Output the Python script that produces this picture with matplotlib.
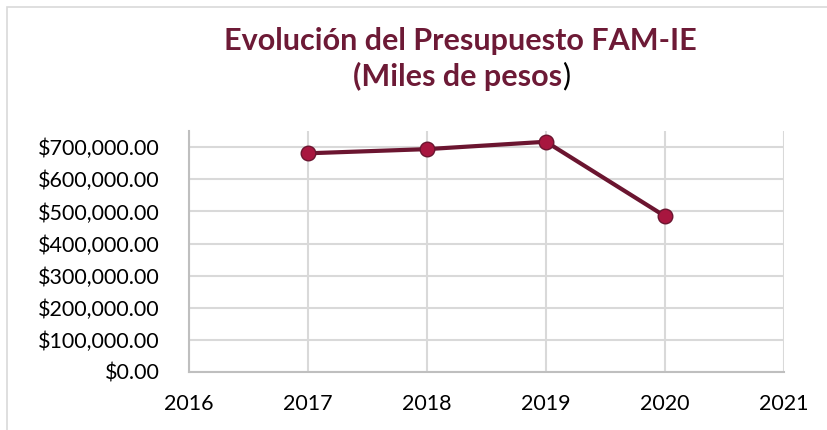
import numpy as np
import matplotlib.pyplot as plt
from matplotlib.patches import Rectangle
from matplotlib.ticker import FuncFormatter, MultipleLocator

# Datos (miles de pesos)
anios = [2017, 2018, 2019, 2020]
presupuesto = [681000, 694000, 717000, 485000]

color_titulo = '#6d1a36'
color_linea = '#6b1530'
color_marcador = '#a8163f'

plt.rcParams['font.family'] = ['Lato', 'DejaVu Sans']

fig = plt.figure(figsize=(8.28, 4.30), dpi=100)
fig.patches.append(Rectangle((0.009, -0.01), 1.0, 0.994, transform=fig.transFigure,
                             fill=False, edgecolor='#d9d9d9', linewidth=1.2))

ax = fig.add_axes([0.228, 0.135, 0.719, 0.56])
ax.plot(anios, presupuesto, color=color_linea, linewidth=3, marker='o',
        markersize=10.5, markerfacecolor=color_marcador, markeredgecolor=color_linea,
        markeredgewidth=1, zorder=3)

ax.set_xlim(2016, 2021)
ax.set_ylim(0, 750000)
ax.xaxis.set_major_locator(MultipleLocator(1))
ax.yaxis.set_major_locator(MultipleLocator(100000))
ax.yaxis.set_major_formatter(FuncFormatter(lambda v, p: '${:,.2f}'.format(v)))
ax.xaxis.set_major_formatter(FuncFormatter(lambda v, p: '{:d}'.format(int(round(v)))))

ax.grid(True, color='#d9d9d9', linewidth=1.5)
ax.set_axisbelow(True)
for s in ['top', 'right']:
    ax.spines[s].set_visible(False)
for s in ['left', 'bottom']:
    ax.spines[s].set_color('#bfbfbf')
    ax.spines[s].set_linewidth(1.5)
ax.tick_params(length=0, labelsize=15.5, colors='#000000')
ax.tick_params(axis='y', pad=21)
ax.tick_params(axis='x', pad=16)

fig.text(0.556, 0.905, 'Evolución del Presupuesto FAM-IE', ha='center', va='center',
         fontsize=22, fontweight='bold', color=color_titulo)
t2 = fig.text(0.553, 0.823, '(Miles de pesos', ha='center', va='center',
              fontsize=22, fontweight='bold', color=color_titulo)
ax.annotate(')', xy=(1, 0.5), xycoords=t2, ha='left', va='center',
            fontsize=22, color='#000000', annotation_clip=False)

fig.savefig('out.png', dpi=100)
